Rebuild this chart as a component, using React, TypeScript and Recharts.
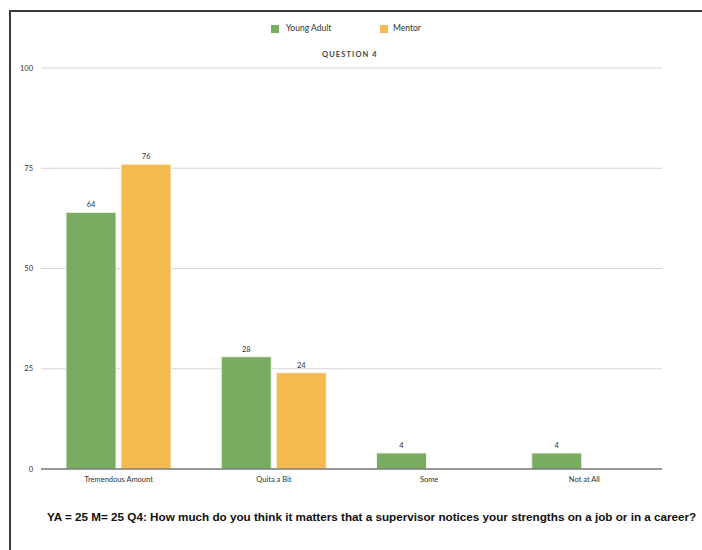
import React from 'react';
import { BarChart, Bar, XAxis, YAxis, CartesianGrid, LabelList } from 'recharts';

const categories = ['Tremendous Amount', 'Quita a Bit', 'Some', 'Not at All'];
const youngAdult = [64, 28, 4, 4];
const mentor = [76, 24, 0, 0];
const yTicks = [0, 25, 50, 75, 100];

const data = categories.map((c, i) => ({ name: c, ya: youngAdult[i], m: mentor[i] }));

const GREEN = '#79ac60';
const ORANGE = '#f4b94f';
const FONT = 'Lato, "DejaVu Sans", sans-serif';

const fmt = (v: any) => (v ? v : '');

export default function App() {
  return (
    <div style={{ position: 'absolute', left: 0, top: 0, width: 702, height: 550, background: '#fff' }}>
      <div style={{ position: 'absolute', left: 9, top: 10, width: 693, height: 2, background: '#3a3a3a' }} />
      <div style={{ position: 'absolute', left: 9, top: 10, width: 2, height: 540, background: '#3a3a3a' }} />
      <div style={{ position: 'absolute', left: 0, top: 22, width: 702, display: 'flex', fontFamily: FONT, fontSize: 8.5, color: '#333', lineHeight: '12px' }}>
        <div style={{ position: 'absolute', left: 271, top: 3, width: 8, height: 8, background: GREEN }} />
        <div style={{ position: 'absolute', left: 286, top: 0 }}>Young Adult</div>
        <div style={{ position: 'absolute', left: 380, top: 3, width: 8, height: 8, background: ORANGE }} />
        <div style={{ position: 'absolute', left: 393, top: 0 }}>Mentor</div>
      </div>
      <div style={{ position: 'absolute', left: 322, top: 50, whiteSpace: 'nowrap', fontFamily: FONT, fontSize: 7.5, fontWeight: 'bold', letterSpacing: 1.1, color: '#444' }}>
        QUESTION 4
      </div>
      <BarChart
        width={702}
        height={550}
        data={data}
        margin={{ top: 68, right: 40, bottom: 51, left: 11 }}
        barSize={50}
        barGap={5}
      >
        <CartesianGrid horizontal={true} vertical={false} stroke="#d6d6d6" />
        <XAxis
          dataKey="name"
          height={30}
          axisLine={{ stroke: '#444', strokeWidth: 1 }}
          tickLine={false}
          tick={{ fontSize: 7.5, fill: '#333', fontFamily: FONT }}
          interval={0}
        />
        <YAxis
          width={30}
          domain={[0, 100]}
          ticks={yTicks}
          axisLine={false}
          tickLine={false}
          tick={{ fontSize: 7.5, fill: '#333', fontFamily: FONT }}
        />
        <Bar dataKey="ya" fill={GREEN} stroke="#eef5ea" strokeWidth={1} isAnimationActive={false}>
          <LabelList dataKey="ya" position="top" formatter={fmt} style={{ fontSize: 7.5, fill: '#333', fontFamily: FONT }} />
        </Bar>
        <Bar dataKey="m" fill={ORANGE} stroke="#fdf3e0" strokeWidth={1} isAnimationActive={false}>
          <LabelList dataKey="m" position="top" formatter={fmt} style={{ fontSize: 7.5, fill: '#333', fontFamily: FONT }} />
        </Bar>
      </BarChart>
      <div style={{ position: 'absolute', left: 47, top: 510, whiteSpace: 'nowrap', fontFamily: '"Liberation Sans", Arial, sans-serif', fontSize: 11.7, fontWeight: 'bold', color: '#111' }}>
        YA = 25 M= 25 Q4: How much do you think it matters that a supervisor notices your strengths on a job or in a career?
      </div>
    </div>
  );
}
